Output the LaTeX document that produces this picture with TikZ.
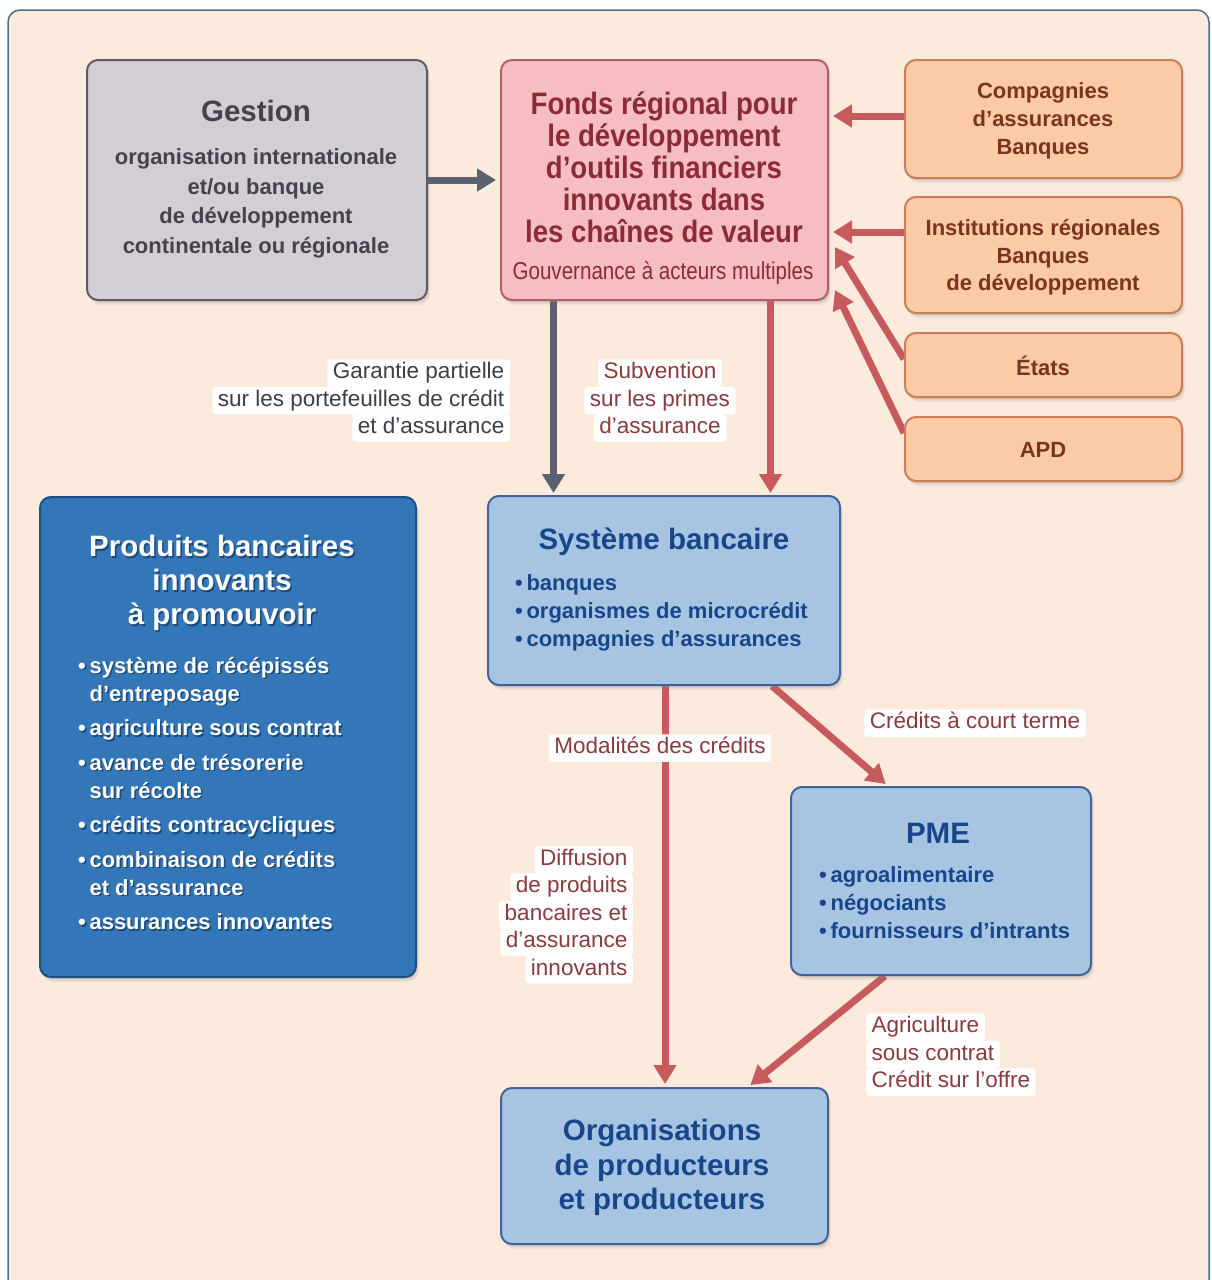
\documentclass[tikz,border=0pt]{standalone}
\usepackage{fontspec}
\setmainfont{Liberation Sans}
\newfontfamily\condfont[FakeStretch=0.89]{Liberation Sans}
\newfontfamily\narrowfont[FakeStretch=0.84]{Liberation Sans}
\usetikzlibrary{arrows.meta,shadows,calc}
\pgfdeclarelayer{bgzero}
\pgfdeclarelayer{background}
\pgfsetlayers{bgzero,background,main}
\definecolor{bgcream}{HTML}{FCEBDD}
\definecolor{framecol}{HTML}{4B6E8E}
\definecolor{grayfill}{HTML}{D3CED3}
\definecolor{grayline}{HTML}{5F5B66}
\definecolor{graytext}{HTML}{45424D}
\definecolor{pinkfill}{HTML}{F6BEC2}
\definecolor{pinkline}{HTML}{B65E66}
\definecolor{pinktext}{HTML}{8B2C34}
\definecolor{orfill}{HTML}{FBCBA6}
\definecolor{orline}{HTML}{C97E57}
\definecolor{ortext}{HTML}{7A3421}
\definecolor{dblue}{HTML}{3377B8}
\definecolor{dblueline}{HTML}{1E4E86}
\definecolor{dshadow}{HTML}{163A66}
\definecolor{lblue}{HTML}{A7C5E3}
\definecolor{lblueline}{HTML}{41639A}
\definecolor{lbluetext}{HTML}{17468A}
\definecolor{arrowred}{HTML}{C65A5D}
\definecolor{arrowgray}{HTML}{5A6272}
\definecolor{lblred}{HTML}{8A3B3D}
\definecolor{lblgray}{HTML}{3E3E48}
\newcommand\myProdTitle{Produits bancaires\\innovants\\à promouvoir}
\newcommand\myProdList{\textbullet\,système de récépissés\\
\phantom{\textbullet\,}d’entreposage\\[6.5pt]
\textbullet\,agriculture sous contrat\\[6.5pt]
\textbullet\,avance de trésorerie\\
\phantom{\textbullet\,}sur récolte\\[6.5pt]
\textbullet\,crédits contracycliques\\[6.5pt]
\textbullet\,combinaison de crédits\\
\phantom{\textbullet\,}et d’assurance\\[6.5pt]
\textbullet\,assurances innovantes}
\begin{document}
\begin{tikzpicture}[x=1pt,y=-1pt,
  box/.style={draw, line width=2pt, rounded corners=11pt, inner sep=0pt,
    drop shadow={shadow xshift=3pt, shadow yshift=-5pt, opacity=0.10},
    drop shadow={shadow xshift=2pt, shadow yshift=-3.5pt, opacity=0.12},
    drop shadow={shadow xshift=1pt, shadow yshift=-2pt, opacity=0.15}},
  graybox/.style={box, fill=grayfill, draw=grayline},
  pinkbox/.style={box, fill=pinkfill, draw=pinkline},
  orbox/.style={box, fill=orfill, draw=orline},
  dbluebox/.style={box, fill=dblue, draw=dblueline},
  lbluebox/.style={box, fill=lblue, draw=lblueline},
  ttl/.style={font=\bfseries\fontsize{29.5}{34}\selectfont, align=center, inner sep=0pt},
  bod/.style={font=\bfseries\fontsize{22}{28}\selectfont, inner sep=0pt},
  lbl/.style={fill=white, rounded corners=3pt, font=\fontsize{22.5}{27.5}\selectfont, inner xsep=5.5pt, inner ysep=3.25pt, text height=16pt, text depth=5pt},
  redarr/.style={draw=arrowred, line width=7pt, -{Triangle[length=19pt,width=22pt]}},
  grayarr/.style={draw=arrowgray, line width=7pt, -{Triangle[length=19pt,width=22pt]}}
]
\useasboundingbox (0,0) rectangle (1212,1280);
\begin{pgfonlayer}{bgzero}
  \filldraw[fill=bgcream, draw=framecol, line width=1.5pt, rounded corners=12pt] (8,10) rectangle (1209,1295);
\end{pgfonlayer}

% boxes
\node[graybox, minimum width=340pt, minimum height=240pt] (gestion) at (257,180) {};
\node[pinkbox, minimum width=327pt, minimum height=240pt] (fonds) at (664.5,180) {};
\node[orbox, minimum width=277pt, minimum height=118pt] (comp) at (1043.5,119) {};
\node[orbox, minimum width=277pt, minimum height=116pt] (inst) at (1043.5,255) {};
\node[orbox, minimum width=277pt, minimum height=64pt] (etats) at (1043.5,365) {};
\node[orbox, minimum width=277pt, minimum height=64pt] (apd) at (1043.5,449) {};
\node[dbluebox, minimum width=376pt, minimum height=480pt] (prod) at (228,737) {};
\node[lbluebox, minimum width=352pt, minimum height=189pt] (sys) at (664,590.5) {};
\node[lbluebox, minimum width=300pt, minimum height=188pt] (pme) at (941,881) {};
\node[lbluebox, minimum width=327pt, minimum height=156pt] (orgs) at (664.5,1166) {};

% box texts
\node[ttl, text=graytext] (gestionT) at (256,111) {Gestion};
\node[bod, align=center, text=graytext, font=\bfseries\fontsize{22}{29.7}\selectfont] (gestionB) at (256,203.5) {organisation internationale\\et/ou banque\\de développement\\continentale ou régionale};
\node[align=center, inner sep=0pt, text=pinktext, font=\condfont\bfseries\fontsize{31}{32}\selectfont] (fondsT) at (664,167) {Fonds régional pour\\le développement\\d’outils financiers\\innovants dans\\les chaînes de valeur};
\node[inner sep=0pt, text=pinktext, font=\narrowfont\fontsize{24.5}{28}\selectfont] (fondsG) at (663,273) {Gouvernance à acteurs multiples};
\node[bod, align=center, text=ortext] (compT) at (1043,121) {Compagnies\\d’assurances\\Banques};
\node[bod, align=center, text=ortext, font=\bfseries\fontsize{22}{27.5}\selectfont] (instT) at (1043,257.5) {Institutions régionales\\Banques\\de développement};
\node[bod, text=ortext] (etatsT) at (1043,365.5) {États};
\node[bod, text=ortext] (apdT) at (1043,450) {APD};

\node[ttl, text=dshadow, opacity=0.8] (prodTs) at (223.5,584.5) {\myProdTitle};
\node[ttl, text=white] (prodT) at (222,583) {\myProdTitle};
\node[bod, align=left, anchor=west, text=dshadow, opacity=0.8] (prodLs) at (79.5,795) {\myProdList};
\node[bod, align=left, anchor=west, text=white] (prodL) at (78,793.5) {\myProdList};

\node[ttl, text=lbluetext] (sysT) at (664,542) {Système bancaire};
\node[bod, align=left, anchor=west, text=lbluetext] (sysL) at (515,613) {\textbullet\,banques\\\textbullet\,organismes de microcrédit\\\textbullet\,compagnies d’assurances};
\node[ttl, text=lbluetext] (pmeT) at (938,833) {PME};
\node[bod, align=left, anchor=west, text=lbluetext] (pmeL) at (819,903) {\textbullet\,agroalimentaire\\\textbullet\,négociants\\\textbullet\,fournisseurs d’intrants};
\node[ttl, text=lbluetext, font=\bfseries\fontsize{29.5}{34.5}\selectfont] (orgsT) at (662,1167.5) {Organisations\\de producteurs\\et producteurs};

% connectors
\begin{pgfonlayer}{background}
\draw[grayarr, shorten >=4pt] (gestion.east) -- (fonds.west);
\draw[redarr, shorten >=4pt] ([yshift=3pt]comp.west) -- ([yshift=3pt]comp.west -| fonds.east);
\draw[redarr, shorten >=4pt] ([yshift=23pt]inst.west) -- ([yshift=23pt]inst.west -| fonds.east);
\draw[redarr] ([yshift=6pt]etats.west) -- ([xshift=6pt,yshift=-67pt]fonds.east);
\draw[redarr] ([yshift=16pt]apd.west) -- ([xshift=6pt,yshift=-110pt]fonds.east);
\draw[grayarr, shorten >=2pt] ([xshift=-111pt]fonds.south) -- ([xshift=-111pt]fonds.south |- sys.north);
\draw[redarr, shorten >=2pt] ([xshift=106pt]fonds.south) -- ([xshift=106pt]fonds.south |- sys.north);
\draw[redarr, shorten >=3pt] ([xshift=1pt]sys.south) -- ([xshift=1pt]sys.south |- orgs.north);
\draw[redarr, shorten >=3pt] ([xshift=108pt]sys.south) -- ([xshift=-53pt]pme.north);
\draw[redarr, shorten >=3pt] ([xshift=-56pt]pme.south) -- ([xshift=83.5pt]orgs.north);
\end{pgfonlayer}

% labels
\node[lbl, anchor=east, text=lblgray] (g1) at (510,373) {Garantie partielle};
\node[lbl, anchor=east, text=lblgray] (g2) at (510,400.5) {sur les portefeuilles de crédit};
\node[lbl, anchor=east, text=lblgray] (g3) at (510,428) {et d’assurance};
\node[lbl, text=lblred] (s1) at (660,373) {Subvention};
\node[lbl, text=lblred] (s2) at (660,400.5) {sur les primes};
\node[lbl, text=lblred] (s3) at (660,428) {d’assurance};
\node[lbl, text=lblred] (m1) at (660,748) {Modalités des crédits};
\node[lbl, text=lblred] (c1) at (975,723) {Crédits à court terme};
\node[lbl, anchor=east, text=lblred] (d1) at (633,859.5) {Diffusion};
\node[lbl, anchor=east, text=lblred] (d2) at (633,887) {de produits};
\node[lbl, anchor=east, text=lblred] (d3) at (633,914.5) {bancaires et};
\node[lbl, anchor=east, text=lblred] (d4) at (633,942) {d’assurance};
\node[lbl, anchor=east, text=lblred] (d5) at (633,969.5) {innovants};
\node[lbl, anchor=west, text=lblred] (a1) at (866,1027) {Agriculture};
\node[lbl, anchor=west, text=lblred] (a2) at (866,1054.5) {sous contrat};
\node[lbl, anchor=west, text=lblred] (a3) at (866,1082) {Crédit sur l’offre};
\end{tikzpicture}
\end{document}
